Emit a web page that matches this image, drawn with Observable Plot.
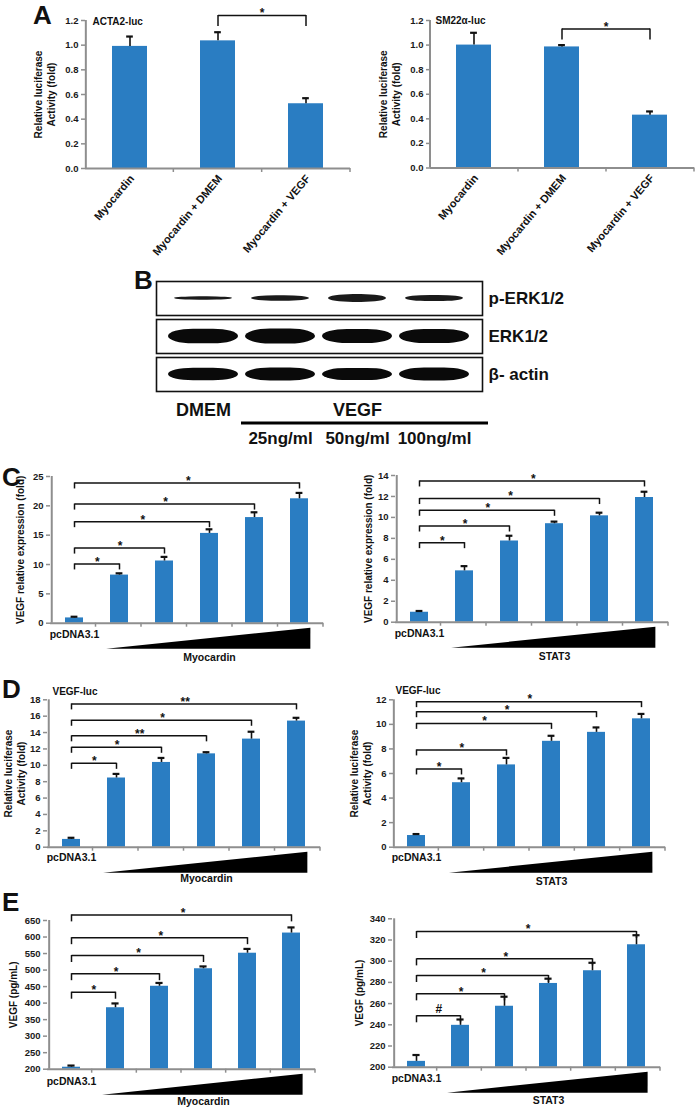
<!DOCTYPE html>
<html><head><meta charset="utf-8">
<script src="https://cdn.jsdelivr.net/npm/d3@7"></script>
<script src="https://cdn.jsdelivr.net/npm/@observablehq/plot@0.6"></script>
<style>
body{margin:0;background:#fff;}
#fig{position:relative;width:697px;height:1107px;overflow:hidden;background:#fff;font-family:"Liberation Sans",Arial,sans-serif;font-weight:bold;color:#111;}
.abs{position:absolute;}
.letter{position:absolute;font-size:26px;line-height:normal;font-weight:bold;}
</style></head><body><div id="fig"></div>
<script>
// ---------------- DATA ----------------
const panelACats = ["Myocardin", "Myocardin + DMEM", "Myocardin + VEGF"];
const acta2Values = [0.99, 1.035, 0.525];
const acta2Errors = [0.08, 0.07, 0.045];
const sm22Values = [1.0, 0.985, 0.43];
const sm22Errors = [0.1, 0.015, 0.03];
const aTicks = [0, 0.2, 0.4, 0.6, 0.8, 1.0, 1.2];
const acta2Bracket = {from: 1, to: 2, level: 1.24, mark: "*"};
const sm22Bracket = {from: 1, to: 2, level: 1.13, mark: "*"};

const blotLanes = ["DMEM", "VEGF 25ng/ml", "VEGF 50ng/ml", "VEGF 100ng/ml"];
const blotRows = ["p-ERK1/2", "ERK1/2", "β- actin"];
const pErkIntensity = [0.2, 0.32, 0.46, 0.36];
const erkIntensity = [0.86, 0.88, 0.82, 0.82];
const actinIntensity = [0.74, 0.76, 0.72, 0.76];
const groupLabels = ["DMEM", "VEGF"];
const doseLabels = ["25ng/ml", "50ng/ml", "100ng/ml"];

const doseCats = ["pcDNA3.1", "dose 1", "dose 2", "dose 3", "dose 4", "dose 5"];

const cMyoValues = [0.9, 8.2, 10.6, 15.3, 18.0, 21.2];
const cMyoErrors = [0.2, 0.3, 0.7, 0.7, 0.9, 1.0];
const cMyoLevels = [10.1, 12.8, 17.3, 20.3, 23.9];
const cMyoMarks = ["*", "*", "*", "*", "*"];
const cTicksMyo = [0, 5, 10, 15, 20, 25];

const cStatValues = [0.95, 4.9, 7.75, 9.4, 10.15, 11.9];
const cStatErrors = [0.12, 0.45, 0.5, 0.2, 0.3, 0.55];
const cStatLevels = [7.59, 9.18, 10.68, 11.8, 13.48];
const cStatMarks = ["*", "*", "*", "*", "*"];
const cTicksStat = [0, 2, 4, 6, 8, 10, 12, 14];

const dMyoValues = [0.95, 8.45, 10.35, 11.4, 13.2, 15.4];
const dMyoErrors = [0.2, 0.5, 0.55, 0.2, 0.9, 0.4];
const dMyoLevels = [10.24, 12.2, 13.6, 15.5, 17.5];
const dMyoMarks = ["*", "*", "**", "*", "**"];
const dTicksMyo = [0, 2, 4, 6, 8, 10, 12, 14, 16, 18];

const dStatValues = [0.95, 5.25, 6.7, 8.62, 9.35, 10.45];
const dStatErrors = [0.12, 0.35, 0.57, 0.45, 0.4, 0.4];
const dStatLevels = [6.37, 7.92, 10.08, 11.03, 11.85];
const dStatMarks = ["*", "*", "*", "*", "*"];
const dTicksStat = [0, 2, 4, 6, 8, 10, 12];

const eMyoValues = [206, 386, 451, 504, 551, 612];
const eMyoErrors = [5, 13, 10, 7, 13, 17];
const eMyoLevels = [433, 489, 544, 598, 667];
const eMyoMarks = ["*", "*", "*", "*", "*"];
const eTicksMyo = [200, 250, 300, 350, 400, 450, 500, 550, 600, 650];

const eStatValues = [205.5, 239.5, 257.5, 279, 291, 315.5];
const eStatErrors = [6, 5.5, 9, 4.5, 7.5, 9];
const eStatLevels = [248.5, 269.2, 286.5, 302.2, 328];
const eStatMarks = ["#", "*", "*", "*", "*"];
const eTicksStat = [200, 220, 240, 260, 280, 300, 320, 340];

// ---------------- STYLE ----------------
const BLUE = "#2a7dc2", GRAY = "#8e8e8e", INK = "#111";
const FONT = '"Liberation Sans", Arial, sans-serif';
const fig = document.getElementById("fig");
const svgStyle = {background: "none", overflow: "visible", maxWidth: "none", fontFamily: FONT, fontWeight: "bold", fontSize: "10px", color: INK};

function place(el, left, top) {
  const div = document.createElement("div");
  div.className = "abs";
  div.style.left = left + "px"; div.style.top = top + "px";
  div.appendChild(el); fig.appendChild(div);
}
function letter(t, left, top) {
  const d = document.createElement("div");
  d.className = "letter"; d.textContent = t;
  d.style.left = left + "px"; d.style.top = top + "px";
  fig.appendChild(d);
}
function bracketsFrom(levels, marks) {
  return levels.map((level, i) => ({from: 0, to: i + 1, level, mark: marks[i]}));
}

function xTickMarks(n, ymin) {
  return (index, scales, values, dims) => {
    const {width, marginLeft, marginRight} = dims;
    const step = (width - marginLeft - marginRight) / n;
    const y = scales.y(ymin);
    const g = d3.create("svg:g").attr("stroke", GRAY).attr("stroke-width", 1.5);
    for (let i = 1; i <= n; i++) {
      const x = marginLeft + i * step;
      g.append("line").attr("x1", x).attr("x2", x).attr("y1", y).attr("y2", y + 4);
    }
    return g.node();
  };
}
function wedgeMark(n, ymin) {
  return (index, scales, values, dims) => {
    const {width, marginLeft, marginRight} = dims;
    const step = (width - marginLeft - marginRight) / n;
    const xl = marginLeft + step * 1.3 - 3;
    const xr = marginLeft + step * (n - 1 + 0.7) + 1;
    const y = scales.y(ymin);
    return d3.create("svg:polygon")
      .attr("points", `${xl},${y + 26} ${xr},${y + 26} ${xr},${y + 5}`)
      .attr("fill", "#000").node();
  };
}

function barChart(o) {
  const n = o.cats.length;
  const step = (o.width - o.ml - o.mr) / n;
  const bw = step * 0.4;
  const [ymin, ymax] = o.yDomain;
  const pxPerUnit = (o.height - o.mt - o.mb) / (ymax - ymin);
  const rows = o.cats.map((c, i) => ({cat: c, value: o.values[i], err: o.errs[i]}));
  const br = o.brackets;
  const leg = o.legPx / pxPerUnit;
  const cap = 7;
  const marks = [
    Plot.barY(rows, {x: "cat", y1: ymin, y2: "value", fill: BLUE}),
    Plot.ruleX(rows, {x: "cat", y1: "value", y2: d => d.value + d.err, stroke: INK, strokeWidth: 1.6}),
    Plot.tickY(rows, {x: "cat", y: d => d.value + d.err, stroke: INK, strokeWidth: 2.2, insetLeft: (bw - cap) / 2, insetRight: (bw - cap) / 2}),
    Plot.ruleY([ymin], {stroke: GRAY, strokeWidth: 2}),
    Plot.ruleX([o.cats[0]], {x: d => d, y1: ymin, y2: ymax, dx: -step / 2, stroke: GRAY, strokeWidth: 2}),
    Plot.axisY({ticks: o.yTicks, tickFormat: o.fmt, tickSize: 4, tickPadding: 3, stroke: GRAY, strokeWidth: 1.5, fill: "#1a1a1a", fontSize: 9.5, fontWeight: "bold", label: null}),
    xTickMarks(n, ymin),
    Plot.link(br, {x1: d => o.cats[d.from], x2: d => o.cats[d.to], y1: "level", y2: "level", stroke: INK, strokeWidth: 1.5}),
    Plot.ruleX(br, {x: d => o.cats[d.from], y1: "level", y2: d => d.level - leg, stroke: INK, strokeWidth: 1.5}),
    Plot.ruleX(br, {x: d => o.cats[d.to], y1: "level", y2: d => d.level - leg, stroke: INK, strokeWidth: 1.5}),
    ...br.map(b => Plot.text([b], {x: d => o.cats[d.from], y: "level", text: "mark", dx: (b.to - b.from) * step / 2, dy: b.mark === "#" ? -7 : -2, fontSize: 12, lineAnchor: "middle"})),
    Plot.text([o.ylabel], {frameAnchor: "left", dx: o.ylabelDx, rotate: -90, text: d => d, fontSize: 10, lineHeight: 1.3, lineAnchor: "middle", textAnchor: "middle"})
  ];
  if (o.title) marks.push(Plot.text([o.title], {frameAnchor: "top-left", dx: o.titleDx, dy: o.titleDy, text: d => d, textAnchor: "start", lineAnchor: "middle", fontSize: 10}));
  if (o.rotatedLabels) {
    marks.push(Plot.text(rows, {x: "cat", y: ymin, text: "cat", rotate: -50, textAnchor: "end", lineAnchor: "middle", dy: 8, dx: 2, fontSize: 11}));
  } else {
    marks.push(Plot.text([o.cats[0]], {x: d => d, y: ymin, text: d => d, dy: o.ctrlDy, lineAnchor: "middle", fontSize: 10.5}));
    marks.push(wedgeMark(n, ymin));
    marks.push(Plot.text([o.cats[3]], {x: d => d, y: ymin, text: () => o.treatment, dy: o.treatDy, lineAnchor: "middle", fontSize: 10.5}));
  }
  const svg = Plot.plot({
    width: o.width, height: o.height,
    marginLeft: o.ml, marginRight: o.mr, marginTop: o.mt, marginBottom: o.mb,
    x: {type: "band", domain: o.cats, paddingInner: 0.6, paddingOuter: 0.3, axis: null},
    y: {domain: o.yDomain},
    style: svgStyle,
    marks
  });
  place(svg, o.left, o.top);
}

const fmt1 = d => d.toFixed(1);
const fmt0 = d => String(d);
const LUC = "Relative luciferase\nActivity (fold)";

// Panel A
barChart({left: 0, top: 0, width: 350, height: 300, ml: 85, mr: 0, mt: 20, mb: 132,
  cats: panelACats, values: acta2Values, errs: acta2Errors, yDomain: [0, 1.2], yTicks: aTicks, fmt: fmt1,
  brackets: [acta2Bracket], legPx: 11, ylabel: LUC, ylabelDx: -41.5, title: "ACTA2-luc", titleDx: 7, titleDy: 1, rotatedLabels: true});
barChart({left: 345, top: 0, width: 352, height: 300, ml: 85, mr: 3, mt: 20, mb: 132.5,
  cats: panelACats, values: sm22Values, errs: sm22Errors, yDomain: [0, 1.2], yTicks: aTicks, fmt: fmt1,
  brackets: [sm22Bracket], legPx: 11, ylabel: LUC, ylabelDx: -41.5, title: "SM22α-luc", titleDx: 5, titleDy: 0, rotatedLabels: true});

// Panel C
barChart({left: 0, top: 460, width: 345, height: 210, ml: 50, mr: 22, mt: 16, mb: 47.3,
  cats: doseCats, values: cMyoValues, errs: cMyoErrors, yDomain: [0, 25], yTicks: cTicksMyo, fmt: fmt0,
  brackets: bracketsFrom(cMyoLevels, cMyoMarks), legPx: 6, ylabel: "VEGF relative expression (fold)", ylabelDx: -31,
  ctrlDy: 11.5, treatment: "Myocardin", treatDy: 34});
barChart({left: 345, top: 460, width: 352, height: 210, ml: 50, mr: 29, mt: 15, mb: 48.3,
  cats: doseCats, values: cStatValues, errs: cStatErrors, yDomain: [0, 14], yTicks: cTicksStat, fmt: fmt0,
  brackets: bracketsFrom(cStatLevels, cStatMarks), legPx: 6, ylabel: "VEGF relative expression (fold)", ylabelDx: -28,
  ctrlDy: 11, treatment: "STAT3", treatDy: 34});

// Panel D
barChart({left: 0, top: 680, width: 345, height: 205, ml: 47, mr: 25, mt: 19.3, mb: 38.3,
  cats: doseCats, values: dMyoValues, errs: dMyoErrors, yDomain: [0, 18], yTicks: dTicksMyo, fmt: fmt0,
  brackets: bracketsFrom(dMyoLevels, dMyoMarks), legPx: 6, ylabel: LUC, ylabelDx: -33, title: "VEGF-luc", titleDx: 5, titleDy: -8,
  ctrlDy: 10.5, treatment: "Myocardin", treatDy: 31.5});
barChart({left: 345, top: 680, width: 352, height: 205, ml: 48, mr: 32, mt: 19.3, mb: 38.3,
  cats: doseCats, values: dStatValues, errs: dStatErrors, yDomain: [0, 12], yTicks: dTicksStat, fmt: fmt0,
  brackets: bracketsFrom(dStatLevels, dStatMarks), legPx: 6, ylabel: LUC, ylabelDx: -33, title: "VEGF-luc", titleDx: 2, titleDy: -9,
  ctrlDy: 10.5, treatment: "STAT3", treatDy: 34});

// Panel E
barChart({left: 0, top: 895, width: 345, height: 212, ml: 47, mr: 30, mt: 25, mb: 38.3,
  cats: doseCats, values: eMyoValues, errs: eMyoErrors, yDomain: [200, 650], yTicks: eTicksMyo, fmt: fmt0,
  brackets: bracketsFrom(eMyoLevels, eMyoMarks), legPx: 7, ylabel: "VEGF (pg/mL)", ylabelDx: -34.5,
  ctrlDy: 12, treatment: "Myocardin", treatDy: 32});
barChart({left: 345, top: 895, width: 352, height: 212, ml: 47, mr: 37, mt: 23.3, mb: 40.3,
  cats: doseCats, values: eStatValues, errs: eStatErrors, yDomain: [200, 340], yTicks: eTicksStat, fmt: fmt0,
  brackets: bracketsFrom(eStatLevels, eStatMarks), legPx: 7, ylabel: "VEGF (pg/mL)", ylabelDx: -33.5,
  ctrlDy: 11.5, treatment: "STAT3", treatDy: 33});

// Panel B: western blot
const bands = blotLanes.flatMap((lane, i) => [
  {row: blotRows[0], lane, v: pErkIntensity[i]},
  {row: blotRows[1], lane, v: erkIntensity[i]},
  {row: blotRows[2], lane, v: actinIntensity[i]}
]);
const xBlot = {type: "band", domain: blotLanes, paddingInner: 0.06, paddingOuter: 0.12, axis: null};
const blot = Plot.plot({
  width: 326, height: 113, margin: 0,
  x: xBlot,
  y: {domain: [-1, 1], axis: null},
  fy: {domain: blotRows, paddingInner: 0.1, paddingOuter: 0, axis: null},
  style: svgStyle,
  marks: [
    Plot.frame({stroke: INK, strokeWidth: 1.6}),
    Plot.barY(bands.filter(d => d.row === blotRows[0]), {x: "lane", fy: "row", y1: d => -d.v / 2, y2: d => d.v / 2, fill: "#1a1a1a", rx: 25, insetLeft: 7, insetRight: 7}),
    Plot.barY(bands.filter(d => d.row !== blotRows[0]), {x: "lane", fy: "row", y1: d => -d.v / 2, y2: d => d.v / 2, fill: "#0a0a0a", rx: 25, insetLeft: 1, insetRight: 1}),
    Plot.text(blotRows, {fy: d => d, text: d => d, frameAnchor: "right", dx: 6, textAnchor: "start", lineAnchor: "middle", fontSize: 17})
  ]
});
blot.querySelectorAll('g[aria-label="bar"]').forEach(g => g.style.filter = "blur(0.6px)");
place(blot, 156, 280);

const blotLabels = Plot.plot({
  width: 326, height: 55, margin: 0,
  x: xBlot,
  style: svgStyle,
  marks: [
    Plot.text([blotLanes[0]], {x: d => d, text: () => groupLabels[0], frameAnchor: "top", dy: 15, lineAnchor: "middle", fontSize: 18}),
    Plot.text([blotLanes[2]], {x: d => d, text: () => groupLabels[1], frameAnchor: "top", dy: 15, lineAnchor: "middle", fontSize: 18}),
    (index, scales, values, dims) => {
      const x = scales.x;
      const bw = x.bandwidth();
      return d3.create("svg:line")
        .attr("x1", x(blotLanes[1]) - 3).attr("x2", x(blotLanes[3]) + bw + 18)
        .attr("y1", 28).attr("y2", 28)
        .attr("stroke", "#000").attr("stroke-width", 3).node();
    },
    Plot.text(blotLanes.slice(1), {x: d => d, text: (d, i) => doseLabels[i], frameAnchor: "top", dy: 43, lineAnchor: "middle", fontSize: 17})
  ]
});
place(blotLabels, 156, 395);

// Panel letters
letter("A", 33, 0);
letter("B", 134, 264.5);
letter("C", 2, 461.5);
letter("D", 2, 673.5);
letter("E", 2, 886.5);
</script></body></html>
